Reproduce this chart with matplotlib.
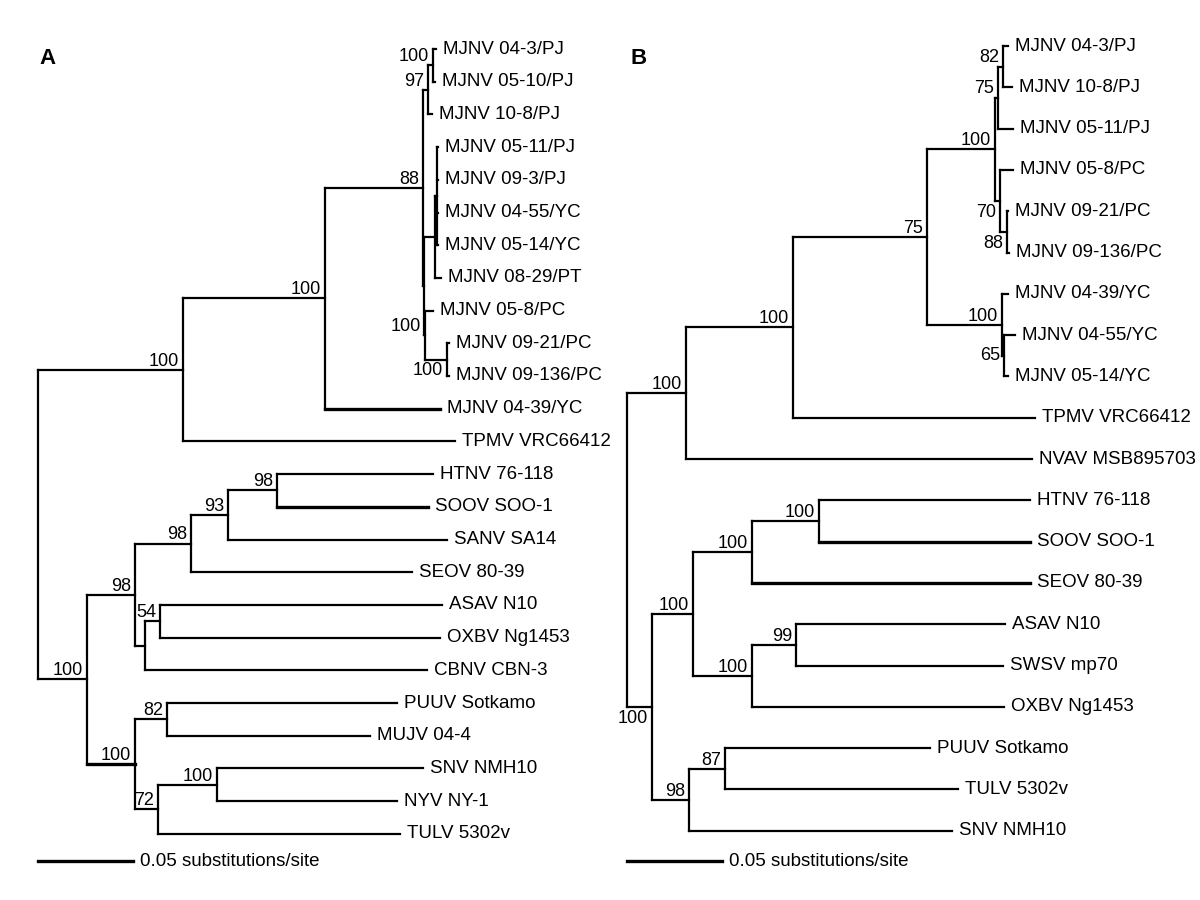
import matplotlib
matplotlib.use("Agg")
import matplotlib.pyplot as plt
import matplotlib.transforms as mtransforms

plt.rcParams["font.family"] = ["Liberation Sans", "DejaVu Sans"]

# Trees in Newick form, branch lengths in substitutions/site,
# internal nodes named so bootstrap values can be attached below.
TREE_A = (
    "((((((MJNV 04-3/PJ:0.0016,MJNV 05-10/PJ:0.0011)n100a:0.0026,"
    "MJNV 10-8/PJ:0.0021)n97:0.0026,"
    "(((MJNV 05-11/PJ:0.0005,MJNV 09-3/PJ:0.0005,MJNV 04-55/YC:0.0005,"
    "MJNV 05-14/YC:0.0005)nY:0.0011,MJNV 08-29/PT:0.0032)nX:0.0058,"
    "(MJNV 05-8/PC:0.0042,(MJNV 09-21/PC:0.0011,"
    "MJNV 09-136/PC:0.0011)n100b:0.0116)nPC:0.0005)nZ:0.0005)n88:0.0516,"
    "MJNV 04-39/YC:0.0605)nMJ:0.0747,TPMV VRC66412:0.1432)nUp:0.0763,"
    "(((((HTNV 76-118:0.0821,SOOV SOO-1:0.0795)n98c:0.0258,SANV SA14:0.1153)n93:0.0195,"
    "SEOV 80-39:0.1163)n98b:0.0295,((ASAV N10:0.1484,OXBV Ng1453:0.1474)n54:0.0079,"
    "CBNV CBN-3:0.1484)n54p:0.0053)n98a:0.0253,"
    "((PUUV Sotkamo:0.1211,MUJV 04-4:0.1068)n82:0.0168,((SNV NMH10:0.1084,"
    "NYV NY-1:0.0947)n100c:0.0311,TULV 5302v:0.1274)n72:0.0121)n100L2:0.0253)nLow:0.0258);"
)
TREE_B = (
    "(((((((MJNV 04-3/PJ:0.0026,MJNV 10-8/PJ:0.0047)b82:0.0026,"
    "MJNV 05-11/PJ:0.0079)b5:0.0016,"
    "(MJNV 05-8/PC:0.0068,(MJNV 09-21/PC:0.0005,MJNV 09-136/PC:0.0011)bD:0.0037)bC:0.0026)b4:0.0358,"
    "(MJNV 04-39/YC:0.0032,(MJNV 04-55/YC:0.0058,MJNV 05-14/YC:0.0021)bF:0.0011)bE:0.0395)b3:0.0705,"
    "TPMV VRC66412:0.1274)b2:0.0563,NVAV MSB895703:0.1821)b1:0.0311,"
    "((((HTNV 76-118:0.1111,SOOV SOO-1:0.1111)bK:0.0353,SEOV 80-39:0.1463)bI:0.0311,"
    "((ASAV N10:0.1100,SWSV mp70:0.1089)b99:0.0232,OXBV Ng1453:0.1326)bJ:0.0311)bG:0.0216,"
    "((PUUV Sotkamo:0.1079,TULV 5302v:0.1226)b87:0.0189,SNV NMH10:0.1384)b98:0.0195)bLow:0.0132);"
)

BOOT_A = {"nUp": 100, "nMJ": 100, "n88": 88, "n97": 97, "n100a": 100, "nPC": 100,
          "n100b": 100, "nLow": 100, "n98a": 98, "n98b": 98, "n93": 93, "n98c": 98,
          "n54": 54, "n100L2": 100, "n82": 82, "n72": 72, "n100c": 100}
BOOT_B = {"b1": 100, "b2": 100, "b3": 75, "b4": 100, "b5": 75, "b82": 82, "bC": 70,
          "bD": 88, "bE": 100, "bF": 65, "bLow": 100, "bG": 100, "bI": 100, "bK": 100,
          "bJ": 100, "b99": 99, "b98": 98, "b87": 87}

SCALE_LEN = 0.05
SCALE_TEXT = "0.05 substitutions/site"

# label placement / line weight tweaks
BELOW = {"n100b", "bC", "bD", "bLow"}
CENTER = {"bF"}
THICK_A = {"SOOV SOO-1", "n100L2", "MJNV 04-39/YC"}
THICK_B = {"SOOV SOO-1", "SEOV 80-39"}


def parse_newick(s):
    pos = 0

    def node():
        nonlocal pos
        kids = []
        if s[pos] == "(":
            pos += 1
            kids.append(node())
            while s[pos] == ",":
                pos += 1
                kids.append(node())
            pos += 1
        start = pos
        while s[pos] not in ",():;":
            pos += 1
        name = s[start:pos].strip()
        length = 0.0
        if s[pos] == ":":
            pos += 1
            start = pos
            while s[pos] not in ",();":
                pos += 1
            length = float(s[start:pos])
        return {"name": name, "len": length, "kids": kids}

    return node()


def place(nd, x0, tips):
    nd["px"] = x0
    nd["x"] = x0 + nd["len"]
    if nd["kids"]:
        for k in nd["kids"]:
            place(k, nd["x"], tips)
        nd["y"] = (nd["kids"][0]["y"] + nd["kids"][-1]["y"]) / 2
    else:
        nd["y"] = len(tips)
        tips.append(nd)


def walk(nd):
    yield nd
    for k in nd["kids"]:
        yield from walk(k)


def draw_tree(ax, newick, boot, thick):
    tree = parse_newick(newick)
    tips = []
    place(tree, 0.0, tips)
    for nd in walk(tree):
        lw = 2.4 if nd["name"] in thick else 1.6
        if nd is not tree:
            ax.plot([nd["px"], nd["x"]], [nd["y"], nd["y"]], color="black", lw=lw,
                    solid_capstyle="projecting")
        if nd["kids"]:
            ax.plot([nd["x"], nd["x"]], [nd["kids"][0]["y"], nd["kids"][-1]["y"]],
                    color="black", lw=1.6, solid_capstyle="projecting")
        else:
            ax.annotate(nd["name"], (nd["x"], nd["y"]), xytext=(5, 0),
                        textcoords="offset points", va="center", ha="left", fontsize=13.5)
        if nd["name"] in boot:
            if nd["name"] in BELOW:
                va, dy = "top", -2
            elif nd["name"] in CENTER:
                va, dy = "center", 0
            else:
                va, dy = "baseline", 3
            ax.annotate(str(boot[nd["name"]]), (nd["x"], nd["y"]), xytext=(-3, dy),
                        textcoords="offset points", va=va, ha="right", fontsize=13)
    return tips


fig = plt.figure(figsize=(12, 9), dpi=100)

# panel A
axA = fig.add_axes([0, 0, 0.5, 1])
tipsA = draw_tree(axA, TREE_A, BOOT_A, THICK_A)
axA.set_xlim(-38 / 1900, 562 / 1900)
axA.set_ylim((900 - 49) / 32.7, -49 / 32.7)

# panel B
axB = fig.add_axes([0.5, 0, 0.5, 1])
tipsB = draw_tree(axB, TREE_B, BOOT_B, THICK_B)
axB.set_xlim(-27 / 1900, 573 / 1900)
axB.set_ylim((900 - 46) / 41.3, -46 / 41.3)

for ax, letter, lx in [(axA, "A", 0.066), (axB, "B", 0.05)]:
    ax.axis("off")
    tr = mtransforms.blended_transform_factory(ax.transData, ax.transAxes)
    ax.plot([0, SCALE_LEN], [0.043, 0.043], color="black", lw=2.4, transform=tr)
    ax.annotate(SCALE_TEXT, (SCALE_LEN, 0.043), xycoords=tr, xytext=(5, 0),
                textcoords="offset points", va="center", ha="left", fontsize=13.5)
    ax.text(lx, 0.935, letter, transform=ax.transAxes, fontsize=16, fontweight="bold",
            va="center", ha="left")

fig.savefig("out.png", dpi=100)
